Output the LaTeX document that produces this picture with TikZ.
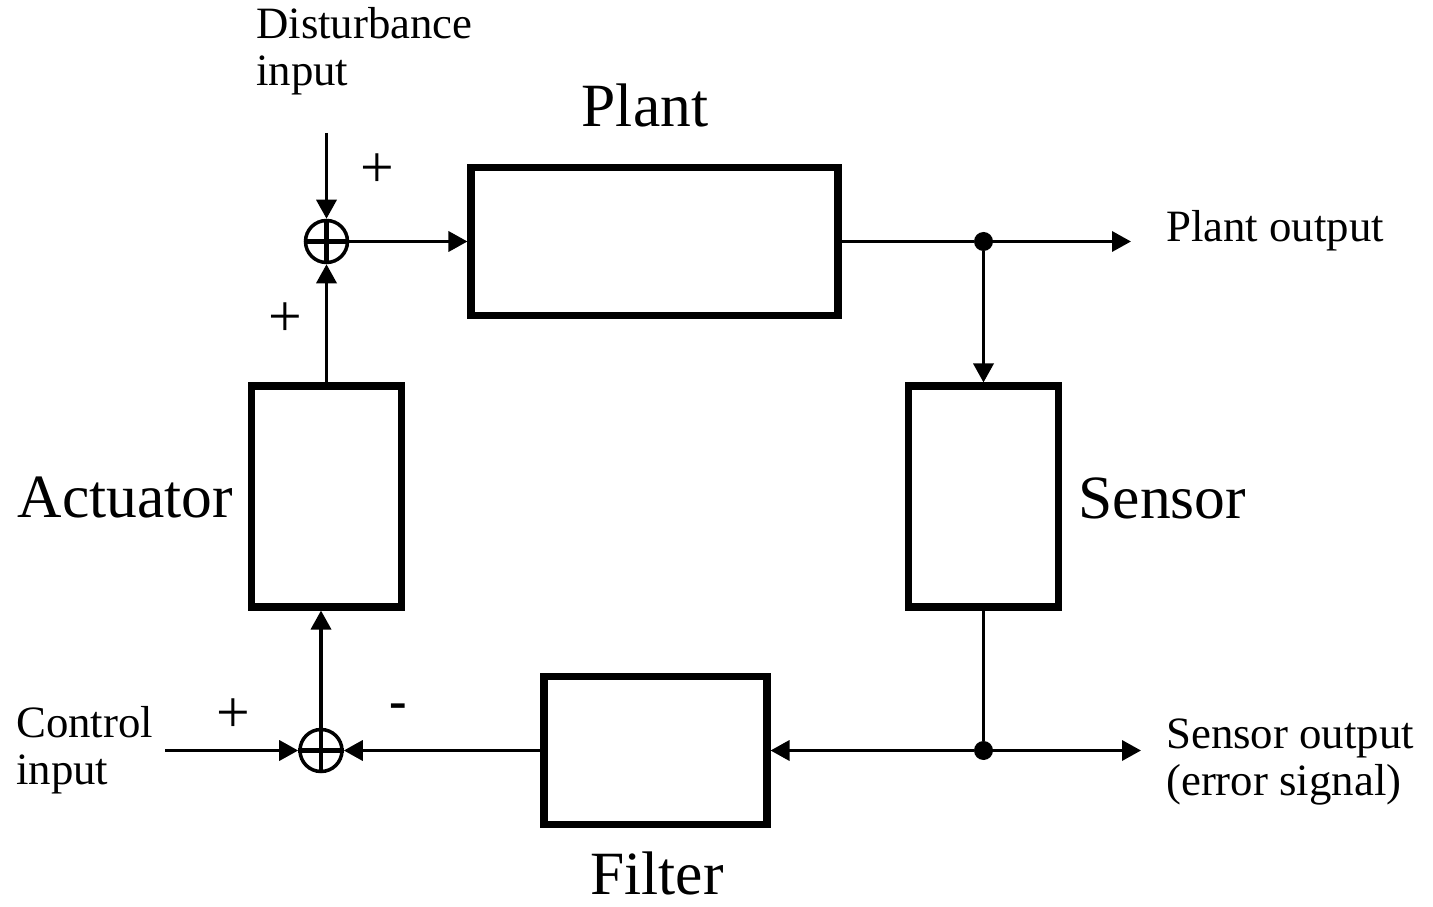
\documentclass[tikz,border=0pt]{standalone}
\usepackage{fontspec}
\setmainfont{Liberation Serif}
\usepackage{tikz}
\usetikzlibrary{arrows.meta, positioning}

\tikzset{
  blockbox/.style={draw, line width=4pt, minimum width=#1, inner sep=0pt},
  sumnode/.style={draw, circle, line width=2pt, minimum size=0.84cm, inner sep=0pt},
  dotnode/.style={fill, circle, minimum size=0.38cm, inner sep=0pt},
  sig/.style={line width=2pt, -{Triangle[length=0.38cm,width=0.4cm]}},
  bigtxt/.style={font=\fontsize{35}{38}\selectfont},
  smalltxt/.style={font=\fontsize{25.5}{27}\selectfont, align=left},
  signtxt/.style={font=\fontsize{34}{36}\selectfont}
}

\begin{document}
\begin{tikzpicture}
  \useasboundingbox (0,0) rectangle (28.66,18.12);

  % blocks
  \node[blockbox=7.34cm, minimum height=2.96cm] (plant) at (13.09,13.29) {};
  \node[blockbox=3cm, minimum height=4.42cm] (act) at (6.53,8.19) {};
  \node[blockbox=3cm, minimum height=4.42cm] (sens) at (19.67,8.19) {};
  \node[blockbox=4.46cm, minimum height=2.96cm] (filt) at (13.11,3.11) {};

  \node[bigtxt] (plantlbl) at (12.9,16.02) {Plant};
  \node[bigtxt, anchor=east] (actlbl) at (4.78,8.16) {Actuator};
  \node[bigtxt, anchor=west] (senslbl) at (21.45,8.16) {Sensor};
  \node[bigtxt, anchor=base] (filtlbl) at (13.14,0.24) {Filter};

  % summing junctions
  \node[sumnode] (tsum) at (6.53,13.29) {};
  \node[sumnode] (bsum) at (6.42,3.11) {};
  \foreach \s in {tsum,bsum}{
    \draw[line width=2.4pt] (\s.north) -- (\s.south) (\s.west) -- (\s.east);
  }

  \node[dotnode] (tdot) at (19.67,13.29) {};
  \node[dotnode] (bdot) at (19.67,3.11) {};

  % inputs and outputs
  \coordinate (distin) at (6.53,15.46);
  \coordinate (ctrlin) at (3.3,3.11);
  \coordinate (plantout) at (22.62,13.29);
  \coordinate (sensout) at (22.82,3.11);

  \node[smalltxt, anchor=west] (distlbl) at (5.0,17.1) {Disturbance\\input};
  \node[smalltxt, anchor=west] (ctrllbl) at (0.2,3.12) {Control\\input};
  \node[smalltxt, anchor=west] (pout) at (23.2,13.5) {Plant output};
  \node[smalltxt, anchor=west] (sout) at (23.2,2.88) {Sensor output\\(error signal)};

  % signs
  \node[signtxt] (p1) at (7.54,14.7) {+};
  \node[signtxt] (p2) at (5.7,11.72) {+};
  \node[signtxt] (p3) at (4.66,3.8) {+};
  \node[signtxt, font=\fontsize{30}{32}\bfseries] (m1) at (7.96,3.9) {-};

  % connectors
  \draw[sig] (distin) -- (tsum.north);
  \draw[sig] (act.north) -- (tsum.south);
  \draw[sig] (tsum.east) -- (plant.west);
  \draw[line width=2pt] (plant.east) -- (tdot);
  \draw[sig] (tdot) -- (plantout);
  \draw[sig] (tdot) -- (sens.north);
  \draw[line width=2pt] (sens.south) -- (bdot);
  \draw[sig] (bdot) -- (sensout);
  \draw[sig] (bdot) -- (filt.east);
  \draw[sig] (filt.west) -- (bsum.east);
  \draw[sig] (ctrlin) -- (bsum.west);
  \draw[sig] (bsum.north) -- (bsum |- act.south);
\end{tikzpicture}
\end{document}
